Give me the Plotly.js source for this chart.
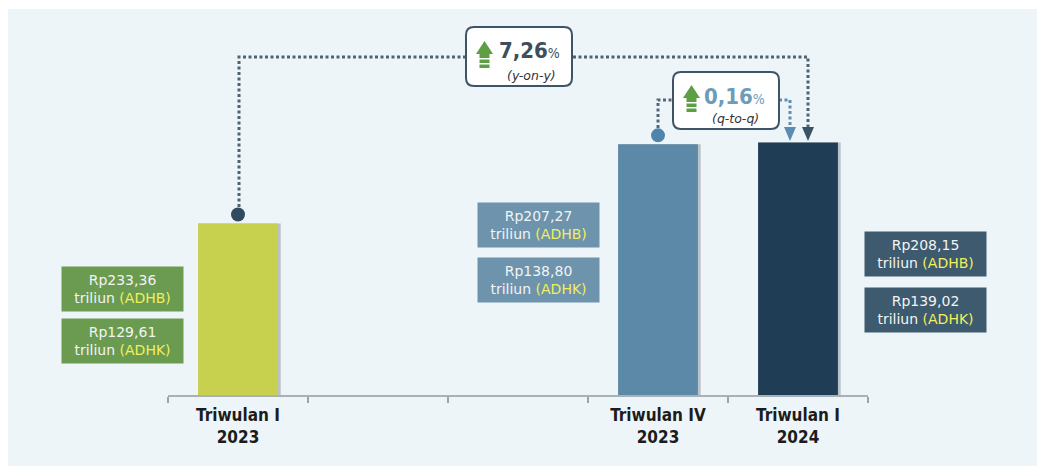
<!DOCTYPE html>
<html>
<head>
<meta charset="utf-8">
<script src="https://cdn.plot.ly/plotly-3.0.1.min.js"></script>
<style>html,body{margin:0;padding:0;background:#eef5f8;overflow:hidden;}#chart{width:1037px;height:466px;}</style>
</head>
<body>
<div id="chart"></div>
<script>
// ---- data ----
const categories = ["Triwulan I<br>2023", "gap1", "gap2", "Triwulan IV<br>2023", "Triwulan I<br>2024"];
const tickLabels = ["Triwulan I<br>2023", "", "", "Triwulan IV<br>2023", "Triwulan I<br>2024"];
const adhk = [129.61, null, null, 138.80, 139.02];
const adhb = [233.36, null, null, 207.27, 208.15];
const adhkText = ["Rp129,61", "", "", "Rp138,80", "Rp139,02"];
const adhbText = ["Rp233,36", "", "", "Rp207,27", "Rp208,15"];
const growthYoY = "7,26";
const growthQtQ = "0,16";

// ---- styles ----
const barColors = ["#c8d14e", "#cccccc", "#cccccc", "#5d89a8", "#1f3e56"];
const boxColors = ["#6b9b50", null, null, "#6e93ad", "#3d5a6e"];
const panel = "#eef5f8";

// layout geometry (pixels)
const L = 168, R = 868, T = 40, B = 395;
const W = R - L, H = B - T;
const px = x => (x - L) / W;
const py = y => (B - y) / H;
const P = (x, y) => px(x).toFixed(5) + "," + py(y).toFixed(5);
function rrect(x0, y0, x1, y1, r) {
  return `M${P(x0 + r, y0)} L${P(x1 - r, y0)} Q${P(x1, y0)} ${P(x1, y0 + r)} L${P(x1, y1 - r)} Q${P(x1, y1)} ${P(x1 - r, y1)} L${P(x0 + r, y1)} Q${P(x0, y1)} ${P(x0, y1 - r)} L${P(x0, y0 + r)} Q${P(x0, y0)} ${P(x0 + r, y0)} Z`;
}
function poly(pts) { return "M" + pts.map(p => P(p[0], p[1])).join(" L") + " Z"; }
function line(pts) { return "M" + pts.map(p => P(p[0], p[1])).join(" L"); }

const shapes = [];
// white border strips
shapes.push({type: "rect", xref: "paper", yref: "paper", x0: px(-20), x1: px(1060), y0: py(-20), y1: py(9), fillcolor: "#ffffff", line: {width: 0}, layer: "above"});
shapes.push({type: "rect", xref: "paper", yref: "paper", x0: px(-20), x1: px(8), y0: py(-20), y1: py(480), fillcolor: "#ffffff", line: {width: 0}, layer: "above"});

const dot = "3px,2.5px";
// y-on-y connector
shapes.push({type: "path", xref: "paper", yref: "paper", path: line([[239, 207], [239, 57], [808, 57], [808, 128]]), line: {color: "#4d6373", width: 3, dash: dot}, layer: "above"});
shapes.push({type: "path", xref: "paper", yref: "paper", path: poly([[802, 127], [814, 127], [808, 141]]), fillcolor: "#3a5366", line: {width: 0}, layer: "above"});
// q-to-q connector
shapes.push({type: "path", xref: "paper", yref: "paper", path: line([[658, 128], [658, 100], [674, 100]]), line: {color: "#51687a", width: 3, dash: dot}, layer: "above"});
shapes.push({type: "path", xref: "paper", yref: "paper", path: line([[779, 100], [790, 100], [790, 128]]), line: {color: "#5e8db0", width: 3, dash: dot}, layer: "above"});
shapes.push({type: "path", xref: "paper", yref: "paper", path: poly([[784, 127], [796, 127], [790, 141]]), fillcolor: "#5a8db0", line: {width: 0}, layer: "above"});

// circles anchored to bar tops
shapes.push({type: "circle", xref: "x", yref: "y", xsizemode: "pixel", ysizemode: "pixel", xanchor: 0, yanchor: adhk[0], x0: -7, x1: 7, y0: 2, y1: 16, fillcolor: "#2f4b5f", line: {width: 0}, layer: "above"});
shapes.push({type: "circle", xref: "x", yref: "y", xsizemode: "pixel", ysizemode: "pixel", xanchor: 3, yanchor: adhk[3], x0: -7, x1: 7, y0: 2, y1: 16, fillcolor: "#4f84ad", line: {width: 0}, layer: "above"});

// growth boxes
shapes.push({type: "path", xref: "paper", yref: "paper", path: rrect(466, 27, 572, 86, 8), fillcolor: "#ffffff", line: {color: "#3e5567", width: 2}, layer: "above"});
shapes.push({type: "path", xref: "paper", yref: "paper", path: rrect(673, 72, 779, 129, 8), fillcolor: "#ffffff", line: {color: "#3e5567", width: 2}, layer: "above"});

// green up arrows
function greenArrow(cx, top) {
  const g = "#5e9e45";
  shapes.push({type: "path", xref: "paper", yref: "paper", path: poly([[cx - 8.5, top + 13], [cx + 8.5, top + 13], [cx, top]]), fillcolor: g, line: {width: 0}, layer: "above"});
  [[13, 17], [18.5, 22], [23.5, 27]].forEach(s => {
    shapes.push({type: "rect", xref: "paper", yref: "paper", x0: px(cx - 5), x1: px(cx + 5), y0: py(top + s[0]), y1: py(top + s[1]), fillcolor: g, line: {width: 0}, layer: "above"});
  });
}
greenArrow(484.5, 41);
greenArrow(691.5, 85);

const annotations = [];
const fam = "DejaVu Sans Condensed, DejaVu Sans, sans-serif";
annotations.push({xref: "paper", yref: "paper", x: px(497), y: py(51), xanchor: "left", yanchor: "middle", showarrow: false,
  text: `<b>${growthYoY}</b><span style="font-size:14px">%</span>`, font: {family: fam, size: 22, color: "#3b4f5d"}});
annotations.push({xref: "paper", yref: "paper", x: px(531), y: py(75), xanchor: "center", yanchor: "middle", showarrow: false,
  text: "<i>(y-on-y)</i>", font: {family: "DejaVu Sans, sans-serif", size: 12.5, color: "#333333"}});
annotations.push({xref: "paper", yref: "paper", x: px(702), y: py(96), xanchor: "left", yanchor: "middle", showarrow: false,
  text: `<b>${growthQtQ}</b><span style="font-size:14px">%</span>`, font: {family: fam, size: 22, color: "#6e9cb8"}});
annotations.push({xref: "paper", yref: "paper", x: px(735), y: py(118), xanchor: "center", yanchor: "middle", showarrow: false,
  text: "<i>(q-to-q)</i>", font: {family: "DejaVu Sans, sans-serif", size: 12.5, color: "#333333"}});

// value boxes
const boxPos = {0: {cx: 122.5, yb: 289, yk: 341}, 3: {cx: 538.5, yb: 225, yk: 280}, 4: {cx: 925, yb: 254, yk: 310}};
Object.keys(boxPos).forEach(k => {
  const i = +k, p = boxPos[k];
  [[adhbText[i], "ADHB", p.yb], [adhkText[i], "ADHK", p.yk]].forEach(d => {
    annotations.push({xref: "paper", yref: "paper", x: px(p.cx), y: py(d[2]), xanchor: "center", yanchor: "middle", showarrow: false,
      width: 117, height: 40, borderpad: 2, bgcolor: boxColors[i],
      text: `${d[0]}<br>triliun <span style="color:#f1ef5c">(${d[1]})</span>`,
      font: {family: "DejaVu Sans, sans-serif", size: 14, color: "#f2f4f4"}});
  });
});

// bar shadow (same data, slightly wider to the right, drawn behind)
const shadow = {
  type: "bar", x: categories, y: adhk, width: 0.59, offset: -0.285,
  marker: {color: "#b9c2c7", line: {width: 0}}, hoverinfo: "skip"
};
const trace = {
  type: "bar", x: categories, y: adhk, width: 0.57, offset: -0.285,
  marker: {color: barColors, line: {width: 0}},
  hoverinfo: "x+y"
};

const layout = {
  width: 1037, height: 466,
  margin: {l: L, r: 1037 - R, t: T, b: 466 - B, pad: 0},
  paper_bgcolor: panel, plot_bgcolor: panel,
  showlegend: false, barmode: "overlay",
  xaxis: {type: "category", range: [-0.5, 4.5], tickvals: categories, ticktext: tickLabels,
    tickson: "boundaries", ticks: "outside", ticklen: 6, tickcolor: "#9aa3a8", tickwidth: 1.3,
    ticklabelstandoff: 4,
    showline: true, linecolor: "#a9b1b5", linewidth: 1.5, showgrid: false, zeroline: false,
    tickfont: {family: fam, size: 17, weight: "bold", color: "#1c1c1c"}},
  yaxis: {range: [109.69, 150.92], visible: false, showgrid: false, zeroline: false},
  shapes: shapes,
  annotations: annotations
};

Plotly.newPlot("chart", [shadow, trace], layout, {displayModeBar: false, staticPlot: true});
</script>
</body>
</html>
